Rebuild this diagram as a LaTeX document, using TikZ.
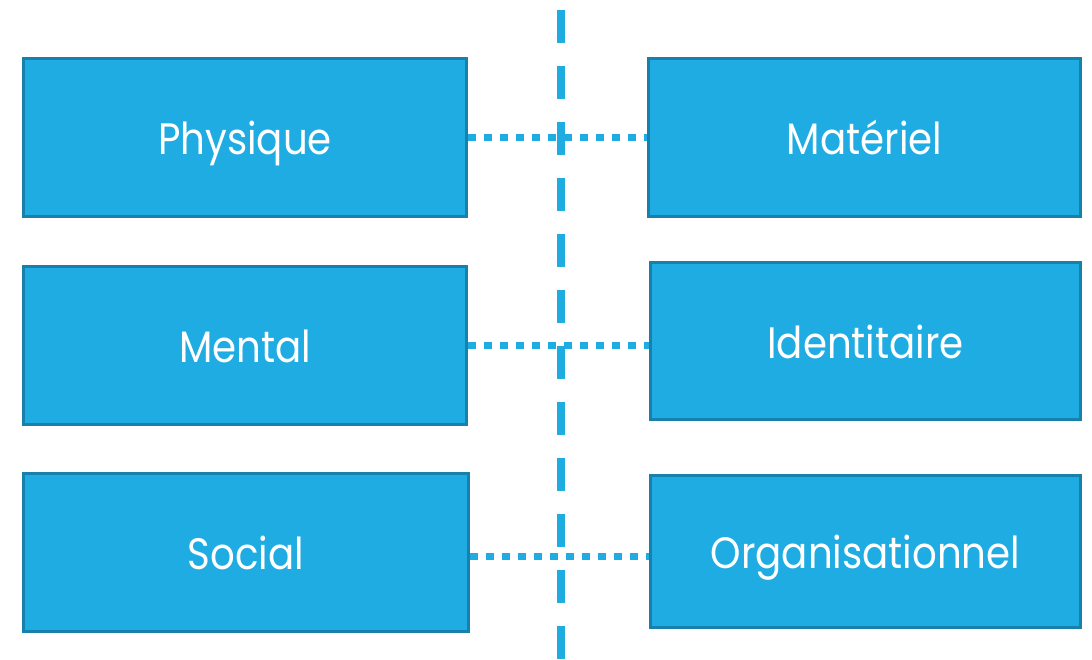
\documentclass[tikz,border=0pt]{standalone}
\usepackage{fontspec}
\setmainfont{Poppins}[FakeStretch=0.88]
\definecolor{boxfill}{HTML}{1FACE3}
\definecolor{boxline}{HTML}{1780AB}
\begin{document}
\begin{tikzpicture}[
            x=1pt, y=-1pt,
            box/.style={draw=boxline, line width=3pt, fill=boxfill, rectangle,
                        text=white, font=\fontsize{44}{44}\selectfont,
                        inner sep=0pt, text height=34pt, text depth=0pt},
            link/.style={draw=boxfill, line width=7pt, dash pattern=on 8pt off 8pt},
            axis/.style={draw=boxfill, line width=8pt, dash pattern=on 33pt off 23pt}
            ]
            \useasboundingbox (0,0) rectangle (1092,659);
            \node[box, minimum width=443pt, minimum height=158pt] (phys) at (245, 137.5) {Physique};
            \node[box, minimum width=443pt, minimum height=158pt] (ment) at (245, 345.5) {Mental};
            \node[box, minimum width=445pt, minimum height=158pt] (soc) at (246, 552.5) {Social};
            \node[box, minimum width=432pt, minimum height=158pt] (mat) at (864.5, 137.5) {Matériel};
            \node[box, minimum width=430pt, minimum height=157pt] (ident) at (865.5, 341) {Identitaire};
            \node[box, minimum width=430pt, minimum height=152pt] (org) at (865.5, 551.5) {Organisationnel};
            \coordinate (top) at (561, 10);
            \coordinate (bot) at (561, 659);
            \draw[axis] (top) -- (bot);
            \draw[link] (phys.east) -- (phys.east -| mat.west);
            \draw[link] (ment.east) -- (ment.east -| ident.west);
            \draw[link] ([yshift=-4pt]soc.east) -- ([yshift=-4pt]soc.east -| org.west);
        \end{tikzpicture}
\end{document}
